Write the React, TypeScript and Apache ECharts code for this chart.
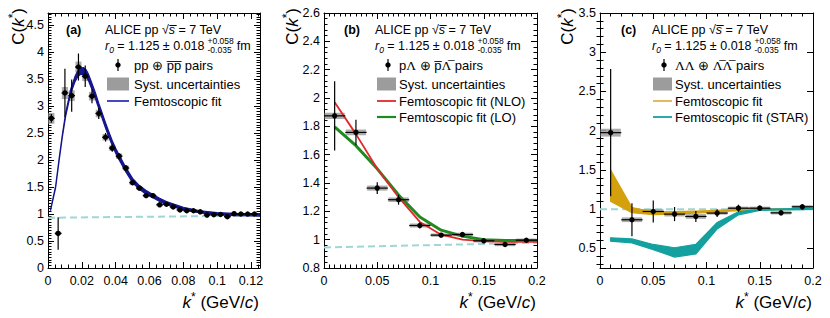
import React, { useEffect, useRef } from "react";
import * as echarts from "echarts";

// ---------------- Panel (a): pp ⊕ p̄p̄ ----------------
const kPP = [0.002, 0.006, 0.010, 0.014, 0.018, 0.022, 0.026, 0.030, 0.034, 0.038, 0.042, 0.046, 0.050, 0.054, 0.058, 0.062, 0.066, 0.070, 0.074, 0.078, 0.082, 0.086, 0.090, 0.094, 0.098, 0.102, 0.106, 0.110, 0.114, 0.118, 0.122];
const cPP = [2.77, 0.64, 3.24, 3.19, 3.72, 3.55, 3.18, 2.86, 2.42, 2.22, 2.07, 1.85, 1.58, 1.48, 1.34, 1.34, 1.17, 1.18, 1.13, 1.075, 1.06, 1.06, 1.04, 0.98, 0.985, 0.99, 0.95, 1.005, 1.0, 1.0, 1.0];
const statPP = [0.08, 0.3, 0.45, 0.3, 0.25, 0.2, 0.13, 0.1, 0.08, 0.07, 0.06, 0.055, 0.05, 0.045, 0.04, 0.04, 0.035, 0.035, 0.03, 0.03, 0.03, 0.03, 0.025, 0.025, 0.025, 0.025, 0.025, 0.025, 0.02, 0.02, 0.02];
const systPP = [0.1, 0.03, 0.11, 0.1, 0.1, 0.09, 0.08, 0.07, 0.06, 0.05, 0.05, 0.045, 0.04, 0.035, 0.03, 0.03, 0.03, 0.025, 0.025, 0.02, 0.02, 0.02, 0.02, 0.02, 0.02, 0.02, 0.02, 0.02, 0.02, 0.02, 0.02];
const fitPP_k = [0.0015, 0.0045, 0.0065, 0.0085, 0.0105, 0.0135, 0.016, 0.0175, 0.019, 0.021, 0.0225, 0.024, 0.026, 0.028, 0.030, 0.032, 0.034, 0.036, 0.038, 0.040, 0.042, 0.046, 0.050, 0.054, 0.058, 0.062, 0.066, 0.070, 0.080, 0.090, 0.100, 0.110, 0.1253];
const fitPP_c = [1.07, 1.5, 1.99, 2.45, 2.85, 3.28, 3.5, 3.59, 3.64, 3.65, 3.61, 3.52, 3.36, 3.19, 3.0, 2.82, 2.64, 2.47, 2.31, 2.17, 2.05, 1.82, 1.62, 1.49, 1.4, 1.33, 1.26, 1.2, 1.1, 1.04, 1.005, 0.99, 0.985];
const fitPP_w = [0.01, 0.015, 0.02, 0.025, 0.03, 0.04, 0.05, 0.055, 0.06, 0.06, 0.06, 0.06, 0.055, 0.055, 0.05, 0.05, 0.05, 0.05, 0.045, 0.045, 0.045, 0.04, 0.04, 0.035, 0.035, 0.03, 0.03, 0.03, 0.025, 0.02, 0.02, 0.02, 0.02];
const basePP_k = [0, 0.1253];
const basePP_c = [0.93, 0.97];

// ---------------- Panel (b): pΛ ⊕ p̄Λ̄ ----------------
const kPL = [0.01, 0.03, 0.05, 0.07, 0.09, 0.11, 0.13, 0.15, 0.17, 0.19];
const cPL = [1.874, 1.757, 1.364, 1.282, 1.10, 1.032, 1.036, 0.992, 0.966, 0.996];
const statPL = [0.245, 0.09, 0.042, 0.035, 0.022, 0.015, 0.013, 0.012, 0.012, 0.012];
const systPL = [0.022, 0.02, 0.018, 0.016, 0.014, 0.012, 0.012, 0.012, 0.012, 0.012];
const fitPL_k = [0.01, 0.03, 0.05, 0.07, 0.09, 0.11, 0.13, 0.15, 0.17, 0.19, 0.2];
const fitNLO_c = [1.97, 1.745, 1.50, 1.30, 1.125, 1.035, 1.0, 0.99, 0.985, 0.985, 0.985];
const fitLO_c = [1.797, 1.663, 1.50, 1.315, 1.16, 1.067, 1.025, 1.0, 0.995, 0.995, 0.995];
const basePL_k = [0, 0.2];
const basePL_c = [0.945, 0.978];

// ---------------- Panel (c): ΛΛ ⊕ Λ̄Λ̄ ----------------
const kLL = [0.01, 0.03, 0.05, 0.07, 0.09, 0.11, 0.13, 0.15, 0.17, 0.19];
const cLL = [1.975, 0.865, 0.97, 0.937, 0.907, 0.95, 1.012, 1.012, 0.953, 1.03];
const statLL = [0.81, 0.21, 0.14, 0.09, 0.07, 0.05, 0.045, 0.035, 0.03, 0.03];
const systLL = [0.05, 0.03, 0.03, 0.03, 0.03, 0.02, 0.02, 0.02, 0.02, 0.02];
const fitLL_k = [0.01, 0.03, 0.05, 0.07, 0.09, 0.11, 0.13, 0.15, 0.17, 0.19, 0.2];
const fitLL_hi = [1.50, 1.02, 0.965, 0.968, 0.975, 0.985, 0.998, 1.003, 1.005, 1.005, 1.005];
const fitLL_lo = [1.10, 0.955, 0.93, 0.937, 0.95, 0.965, 0.982, 0.99, 0.995, 0.997, 0.997];
const starLL_hi = [0.634, 0.62, 0.55, 0.508, 0.55, 0.83, 0.966, 1.0, 1.003, 1.01, 1.01];
const starLL_lo = [0.592, 0.571, 0.485, 0.39, 0.43, 0.748, 0.928, 0.985, 0.99, 0.995, 0.997];
const baseLL_k = [0, 0.2];
const baseLL_c = [1.0, 1.0];

// tick labels of panel (c) y axis
const yTicksC = [0.5, 1, 1.5, 2, 2.5, 3, 3.5];

const FONT = "'Liberation Sans', Arial, Helvetica, sans-serif";
const SERIF = "'Liberation Serif', 'DejaVu Serif', serif";
const LEG = 13;
const HEAD = 12.5;
const TICK = 12.5;

const BLUE_BAND = "#15158e";
const BLUE_LINE = "#3434bb";
const RED = "#e3262a";
const GREEN = "#1f8a1f";
const GOLD = "#d4a00e";
const GOLD_LEG = "#e0b448";
const TEAL = "#13a09e";
const DASH = "#9fd6d6";
const GREY = "#9c9c9c";

function measure(text: string, font: string) {
  const c = document.createElement("canvas").getContext("2d")!;
  c.font = font;
  return c.measureText(text).width;
}

function axisBase(showLabel: boolean, minorSplit: number) {
  return {
    type: "value",
    axisLine: { show: true, onZero: false, lineStyle: { color: "#000", width: 1 } },
    axisTick: { show: true, inside: true, length: 6, lineStyle: { color: "#000", width: 1 } },
    minorTick: { show: minorSplit > 0, splitNumber: minorSplit || 5, length: 3.5, lineStyle: { color: "#000", width: 1 } },
    splitLine: { show: false },
    minorSplitLine: { show: false },
    axisLabel: { show: showLabel, color: "#000", fontSize: TICK, fontFamily: FONT },
  };
}

function xAxes(grid: number, min: number, max: number, interval: number, minor: number, hideMax: boolean) {
  const b: any = { ...axisBase(true, minor), gridIndex: grid, min, max, interval, position: "bottom" };
  b.axisLabel = { ...b.axisLabel, margin: 6, showMaxLabel: !hideMax };
  const t: any = { ...axisBase(false, minor), gridIndex: grid, min, max, interval, position: "top" };
  return [b, t];
}

function yAxes(grid: number, min: number, max: number, interval: number, minor: number, hideMax: boolean) {
  const l: any = { ...axisBase(true, minor), gridIndex: grid, min, max, interval, position: "left" };
  l.axisLabel = { ...l.axisLabel, margin: 4, showMaxLabel: !hideMax };
  const r: any = { ...axisBase(false, minor), gridIndex: grid, min, max, interval, position: "right" };
  return [l, r];
}

function systSeries(xi: number, yi: number, ks: number[], cs: number[], ss: number[], hw: number) {
  return {
    type: "custom", xAxisIndex: xi, yAxisIndex: yi, z: 2, clip: true,
    encode: { x: 0, y: 1 },
    data: ks.map((k, i) => [k, cs[i], ss[i]]),
    renderItem: (params: any, api: any) => {
      const k = api.value(0), c = api.value(1), s = api.value(2);
      const tl = api.coord([k - hw, c + s]);
      const br = api.coord([k + hw, c - s]);
      return {
        type: "rect",
        shape: { x: tl[0], y: tl[1], width: br[0] - tl[0], height: Math.max(br[1] - tl[1], 2) },
        style: { fill: GREY, opacity: 0.85 },
      };
    },
  };
}

function pointSeries(xi: number, yi: number, ks: number[], cs: number[], es: number[], hw: number) {
  return {
    type: "custom", xAxisIndex: xi, yAxisIndex: yi, z: 10, clip: true,
    encode: { x: 0, y: 1 },
    data: ks.map((k, i) => [k, cs[i], es[i]]),
    renderItem: (params: any, api: any) => {
      const k = api.value(0), c = api.value(1), e = api.value(2);
      const p = api.coord([k, c]);
      const t = api.coord([k, c + e]);
      const b = api.coord([k, c - e]);
      const l = api.coord([k - hw, c]);
      const r = api.coord([k + hw, c]);
      return {
        type: "group",
        children: [
          { type: "line", shape: { x1: p[0], y1: t[1], x2: p[0], y2: b[1] }, style: { stroke: "#000", lineWidth: 1.2 } },
          { type: "line", shape: { x1: l[0], y1: p[1], x2: r[0], y2: p[1] }, style: { stroke: "#000", lineWidth: 1.2 } },
          { type: "circle", shape: { cx: p[0], cy: p[1], r: 2.7 }, style: { fill: "#000" } },
        ],
      };
    },
  };
}

function bandSeries(xi: number, yi: number, ks: number[], lo: number[], hi: number[], color: string, z: number) {
  return {
    type: "custom", xAxisIndex: xi, yAxisIndex: yi, z, clip: true,
    encode: { x: 0, y: 1 },
    data: ks.map((k, i) => [k, lo[i], hi[i]]),
    renderItem: (params: any, api: any) => {
      if (params.dataIndex !== 0) return null;
      const pts: number[][] = [];
      for (let i = 0; i < ks.length; i++) pts.push(api.coord([ks[i], hi[i]]));
      for (let i = ks.length - 1; i >= 0; i--) pts.push(api.coord([ks[i], lo[i]]));
      return { type: "polygon", shape: { points: pts }, style: { fill: color, stroke: color, lineWidth: 1.2 } };
    },
  };
}

function lineSeries(xi: number, yi: number, ks: number[], cs: number[], color: string, width: number, z: number, dashed = false) {
  return {
    type: "line", xAxisIndex: xi, yAxisIndex: yi, z,
    showSymbol: false, symbol: "none", silent: true,
    data: ks.map((k, i) => [k, cs[i]]),
    lineStyle: { color, width, type: dashed ? [7, 4] : "solid" },
  };
}

function rich(size: number) {
  return {
    n: { fontFamily: FONT, fontSize: size, fill: "#000", lineHeight: 18 },
    i: { fontFamily: FONT, fontSize: size, fontStyle: "italic", fill: "#000", lineHeight: 18 },
    g: { fontFamily: SERIF, fontSize: size + 0.5, fill: "#000", lineHeight: 18 },
    sub: { fontFamily: FONT, fontSize: 8.5, fontStyle: "italic", fill: "#000", lineHeight: 10, verticalAlign: "bottom" },
  };
}

function text(x: number, y: number, t: string, extra: any = {}, size = LEG) {
  return {
    type: "text", x, y, silent: true,
    style: { text: t, fontFamily: FONT, fontSize: size, fill: "#000", align: "left", verticalAlign: "middle", rich: rich(size), ...extra },
  };
}

const ROWS = [30, 45.5, 65, 84, 101, 117];

function legend(p: { tag: string; tagX: number; x0: number; mX: number; bX: number; bW: number; tX: number; pairs: string; fits: { label: string; color: string; w: number }[] }) {
  const els: any[] = [];
  els.push(text(p.tagX, ROWS[0], p.tag, { fontWeight: "bold" }, HEAD));
  els.push(text(p.x0, ROWS[0], "{n|ALICE pp }{n|√}{i|s\u0305}{n| = 7 TeV}", {}, HEAD));
  const wMain = measure("r", `italic ${HEAD}px ${FONT}`) + measure("0", `italic 8.5px ${FONT}`) + measure(" = 1.125 ± 0.018", `${HEAD}px ${FONT}`);
  els.push(text(p.x0, ROWS[1], "{i|r}{sub|0}{n| = 1.125 ± 0.018}", {}, HEAD));
  const sx = p.x0 + wMain + 3;
  els.push(text(sx, ROWS[1] - 4.5, "+0.058", { fontSize: 8.5 }, 8.5));
  els.push(text(sx, ROWS[1] + 4.5, "-0.035", { fontSize: 8.5 }, 8.5));
  const fx = sx + measure("+0.058", `8.5px ${FONT}`) + 3;
  els.push(text(fx, ROWS[1], "fm", {}, HEAD));
  // marker row
  els.push({ type: "line", silent: true, shape: { x1: p.mX, y1: ROWS[2] - 6, x2: p.mX, y2: ROWS[2] + 6 }, style: { stroke: "#000", lineWidth: 1.2 } });
  els.push({ type: "circle", silent: true, shape: { cx: p.mX, cy: ROWS[2], r: 2.7 }, style: { fill: "#000" } });
  els.push(text(p.tX, ROWS[2], p.pairs));
  // syst
  els.push({ type: "rect", silent: true, shape: { x: p.bX, y: ROWS[3] - 6.5, width: p.bW, height: 13 }, style: { fill: GREY } });
  els.push(text(p.tX, ROWS[3], "Syst. uncertainties"));
  p.fits.forEach((f, i) => {
    const y = ROWS[4 + i];
    els.push({ type: "line", silent: true, shape: { x1: p.bX, y1: y, x2: p.bX + p.bW, y2: y }, style: { stroke: f.color, lineWidth: f.w } });
    els.push(text(p.tX, y, f.label));
  });
  return els;
}

const titleRich = {
  n: { fontFamily: FONT, fontSize: 17, fill: "#000", lineHeight: 22 },
  i: { fontFamily: FONT, fontSize: 17, fontStyle: "italic", fill: "#000", lineHeight: 22 },
  s: { fontFamily: FONT, fontSize: 12, fill: "#000", lineHeight: 12, verticalAlign: "top" },
};

function yTitle(x: number) {
  return {
    type: "text", x, y: 8, rotation: Math.PI / 2, silent: true,
    style: { text: "{n|C(}{i|k}{s|*}{n|)}", align: "right", verticalAlign: "middle", rich: titleRich },
  };
}

function xTitle(xRight: number) {
  return {
    type: "text", x: xRight, y: 302, silent: true,
    style: { text: "{i|k}{s|*}{n| (GeV/}{i|c}{n|)}", align: "right", verticalAlign: "middle", rich: titleRich },
  };
}

function buildOption() {
  const grids = [
    { left: 48, top: 13, width: 212, height: 255 },
    { left: 324, top: 13, width: 213, height: 255 },
    { left: 600, top: 13, width: 213, height: 255 },
  ];
  const minorC: number[] = [];
  for (let v = 3; v <= 34; v++) if (v % 5 !== 0) minorC.push(v / 10);

  const cLeft: any = { ...axisBase(true, 0), gridIndex: 2, min: 0.25, max: 3.5, position: "left" };
  cLeft.axisLabel = { ...cLeft.axisLabel, margin: 4, customValues: yTicksC };
  cLeft.axisTick = { ...cLeft.axisTick, customValues: yTicksC };
  const cRight: any = { ...axisBase(false, 0), gridIndex: 2, min: 0.25, max: 3.5, position: "right" };
  cRight.axisTick = { ...cRight.axisTick, customValues: yTicksC };
  const cLeftMinor: any = { ...axisBase(false, 0), gridIndex: 2, min: 0.25, max: 3.5, position: "left" };
  cLeftMinor.axisLine = { show: false };
  cLeftMinor.axisTick = { ...cLeftMinor.axisTick, length: 3.5, customValues: minorC };
  const cRightMinor: any = { ...axisBase(false, 0), gridIndex: 2, min: 0.25, max: 3.5, position: "right" };
  cRightMinor.axisLine = { show: false };
  cRightMinor.axisTick = { ...cRightMinor.axisTick, length: 3.5, customValues: minorC };

  const xAxis = [
    ...xAxes(0, 0, 0.1253, 0.02, 5, true),
    ...xAxes(1, 0, 0.2, 0.05, 10, false),
    ...xAxes(2, 0, 0.2, 0.05, 5, false),
  ];
  const yAxis = [
    ...yAxes(0, 0, 4.72, 0.5, 10, true),
    ...yAxes(1, 0.8, 2.6, 0.2, 5, false),
    cLeft, cRight, cLeftMinor, cRightMinor,
  ];

  const ppLo = fitPP_c.map((c, i) => c - fitPP_w[i]);
  const ppHi = fitPP_c.map((c, i) => c + fitPP_w[i]);

  const series: any[] = [
    // (a)
    lineSeries(0, 0, basePP_k, basePP_c, DASH, 2, 1, true),
    systSeries(0, 0, kPP, cPP, systPP, 0.0018),
    bandSeries(0, 0, fitPP_k, ppLo, ppHi, BLUE_BAND, 5),
    pointSeries(0, 0, kPP, cPP, statPP, 0.002),
    // (b)
    lineSeries(2, 2, basePL_k, basePL_c, DASH, 2, 1, true),
    systSeries(2, 2, kPL, cPL, systPL, 0.0095),
    lineSeries(2, 2, fitPL_k, fitLO_c, GREEN, 3, 5),
    lineSeries(2, 2, fitPL_k, fitNLO_c, RED, 1.8, 6),
    pointSeries(2, 2, kPL, cPL, statPL, 0.01),
    // (c)
    lineSeries(4, 4, baseLL_k, baseLL_c, DASH, 2, 1, true),
    systSeries(4, 4, kLL, cLL, systLL, 0.0095),
    bandSeries(4, 4, fitLL_k, fitLL_lo, fitLL_hi, GOLD, 5),
    bandSeries(4, 4, fitLL_k, starLL_lo, starLL_hi, TEAL, 5),
    pointSeries(4, 4, kLL, cLL, statLL, 0.01),
  ];

  const graphic: any[] = [
    ...legend({ tag: "(a)", tagX: 66, x0: 105, mX: 118, bX: 107, bW: 22, tX: 134, pairs: "{n|pp ⊕ p\u0305p\u0305 pairs}", fits: [{ label: "Femtoscopic fit", color: BLUE_LINE, w: 1.8 }] }),
    ...legend({ tag: "(b)", tagX: 344, x0: 375, mX: 388, bX: 377, bW: 19, tX: 399, pairs: "{n|p}{g|Λ}{n| ⊕ p\u0305}{g|Λ\u0305}{n| pairs}", fits: [{ label: "Femtoscopic fit (NLO)", color: RED, w: 1.8 }, { label: "Femtoscopic fit (LO)", color: GREEN, w: 2.2 }] }),
    ...legend({ tag: "(c)", tagX: 621, x0: 652, mX: 664, bX: 653, bW: 19, tX: 675, pairs: "{g|ΛΛ}{n| ⊕ }{g|Λ\u0305Λ\u0305}{n| pairs}", fits: [{ label: "Femtoscopic fit", color: GOLD_LEG, w: 1.8 }, { label: "Femtoscopic fit (STAR)", color: TEAL, w: 1.8 }] }),
    yTitle(18), yTitle(292), yTitle(567),
    xTitle(259), xTitle(536), xTitle(812),
  ];

  return {
    animation: false,
    backgroundColor: "#fff",
    textStyle: { fontFamily: FONT },
    grid: grids,
    xAxis,
    yAxis,
    series,
    graphic,
  };
}

export default function App() {
  const ref = useRef<HTMLDivElement>(null);
  useEffect(() => {
    const chart = echarts.init(ref.current!, null, { renderer: "svg" });
    chart.setOption(buildOption() as any);
    return () => chart.dispose();
  }, []);
  return <div ref={ref} style={{ position: "absolute", left: 0, top: 0, width: 830, height: 318, background: "#fff" }} />;
}
